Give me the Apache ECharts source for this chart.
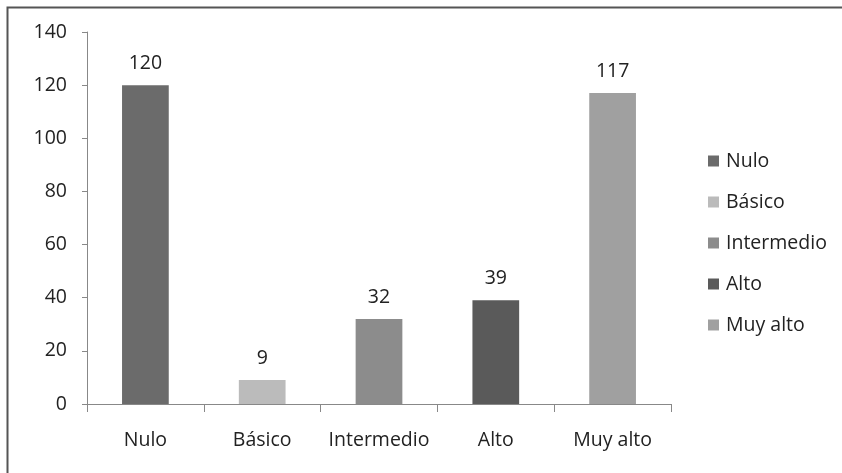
<!DOCTYPE html>
<html>
<head>
<meta charset="utf-8">
<script src="https://cdn.jsdelivr.net/npm/echarts@6/dist/echarts.min.js"></script>
<style>
html,body{margin:0;padding:0;background:#fff;}
#chart{width:842px;height:473px;}
</style>
</head>
<body>
<div id="chart"></div>
<script>
const categories = ['Nulo', 'Básico', 'Intermedio', 'Alto', 'Muy alto'];
const values = [120, 9, 32, 39, 117];
const colors = ['#6b6b6b', '#bbbbbb', '#8c8c8c', '#5a5a5a', '#a0a0a0'];
const yTicks = [0, 20, 40, 60, 80, 100, 120, 140];

const font = '"Open Sans", "Noto Sans", sans-serif';
const fs = 19.5;
const chart = echarts.init(document.getElementById('chart'));

const series = categories.map((name, i) => ({
  name: name,
  type: 'bar',
  stack: 'all',
  barWidth: '40%',
  itemStyle: { color: colors[i] },
  label: {
    show: true, position: 'top', distance: 12,
    color: '#222', fontSize: fs, fontFamily: font
  },
  data: categories.map((c, j) => (j === i ? values[i] : '-'))
}));

chart.setOption({
  animation: false,
  textStyle: { fontFamily: font },
  graphic: [{
    type: 'rect', left: 5, top: 5,
    shape: { width: 860, height: 490 },
    style: { fill: 'none', stroke: '#555', lineWidth: 2 }
  }],
  grid: { left: 87, right: 171, top: 32, bottom: 69 },
  legend: {
    orient: 'vertical', left: 708, top: 151, padding: 0,
    icon: 'rect', itemWidth: 11, itemHeight: 11, itemGap: 21,
    textStyle: { fontSize: fs, color: '#222', fontFamily: font, padding: [0, 0, 0, 2] },
    data: categories
  },
  xAxis: {
    type: 'category', data: categories,
    axisLine: { lineStyle: { color: '#888' } },
    axisTick: { show: true, length: 8, alignWithLabel: false, lineStyle: { color: '#888' } },
    axisLabel: { interval: 0, fontSize: fs, color: '#222', margin: 26, fontFamily: font }
  },
  yAxis: {
    type: 'value', min: yTicks[0], max: yTicks[yTicks.length - 1], interval: 20,
    axisLine: { show: true, lineStyle: { color: '#888' } },
    axisTick: { show: true, length: 5, lineStyle: { color: '#888' } },
    splitLine: { show: false },
    axisLabel: { fontSize: fs, color: '#222', margin: 20, fontFamily: font }
  },
  series: series
});
</script>
</body>
</html>
